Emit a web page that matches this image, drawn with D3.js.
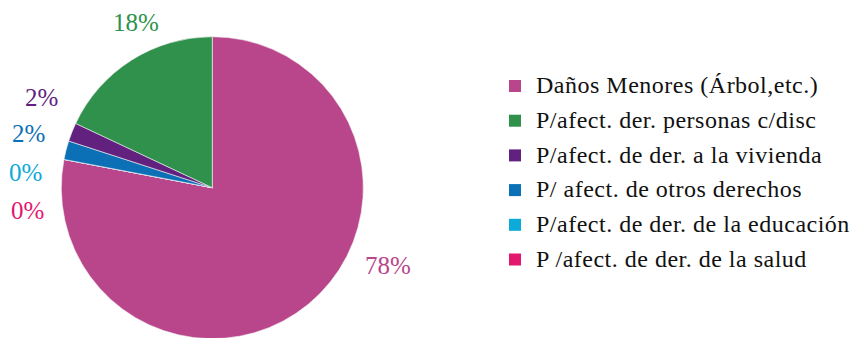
<!DOCTYPE html>
<html>
<head>
<meta charset="utf-8">
<script src="https://cdn.jsdelivr.net/npm/d3@7"></script>
<style>
  html, body { margin: 0; padding: 0; background: #fff; }
  svg { display: block; }
</style>
</head>
<body>
<svg id="chart" width="856" height="338"></svg>
<script>
// Categories (legend order), their shares in percent and colours
const categories = [
  "Daños Menores (Árbol,etc.)",
  "P/afect. der. personas c/disc",
  "P/afect. de der. a la vivienda",
  "P/ afect. de otros derechos",
  "P/afect. de der. de la educación",
  "P /afect. de der. de la salud"
];
const values = [78, 18, 2, 2, 0, 0];
const colors = ["#B9468B", "#30914D", "#62217F", "#0B70B5", "#0BAAD8", "#E3176E"];

// Clockwise drawing order of the slices, starting at 12 o'clock
const sliceOrder = [0, 5, 4, 3, 2, 1];

// Where each percentage label sits (left edge, baseline)
const labelAnchors = [[365, 274], [113, 31], [25, 106], [12, 142], [9, 181], [11, 219]];

const serif = "Liberation Serif";
const svg = d3.select("#chart");
const cx = 212.3, cy = 187.7, radius = 151;

const data = sliceOrder.map(i => ({ i, name: categories[i], value: values[i], color: colors[i] }));

const pie = d3.pie().sort(null).value(d => d.value);
const arc = d3.arc().innerRadius(0).outerRadius(radius);

const g = svg.append("g").attr("transform", `translate(${cx},${cy})`);
g.selectAll("path")
  .data(pie(data))
  .join("path")
  .attr("d", arc)
  .attr("fill", d => d.data.color)
  .attr("stroke", "#f4f4f4")
  .attr("stroke-width", 0.6);

// Percentage labels
svg.selectAll("text.pct")
  .data(categories.map((c, i) => i))
  .join("text")
  .attr("class", "pct")
  .attr("x", i => labelAnchors[i][0])
  .attr("y", i => labelAnchors[i][1])
  .attr("fill", i => colors[i])
  .attr("font-size", 25)
  .style("font-family", serif)
  .text(i => d3.format(".0f")(values[i]) + "%");

// Legend
const legend = svg.append("g").attr("transform", "translate(509,80)");
const rowH = 34.7;
const rows = legend.selectAll("g")
  .data(categories)
  .join("g")
  .attr("transform", (d, i) => `translate(0,${i * rowH})`);
rows.append("rect")
  .attr("width", 12).attr("height", 12)
  .attr("fill", (d, i) => colors[i]);
rows.append("text")
  .attr("x", 27).attr("y", 13.3)
  .attr("font-size", 24)
  .attr("letter-spacing", 0.5)
  .style("font-family", serif)
  .attr("fill", "#111")
  .text(d => d);
</script>
</body>
</html>
